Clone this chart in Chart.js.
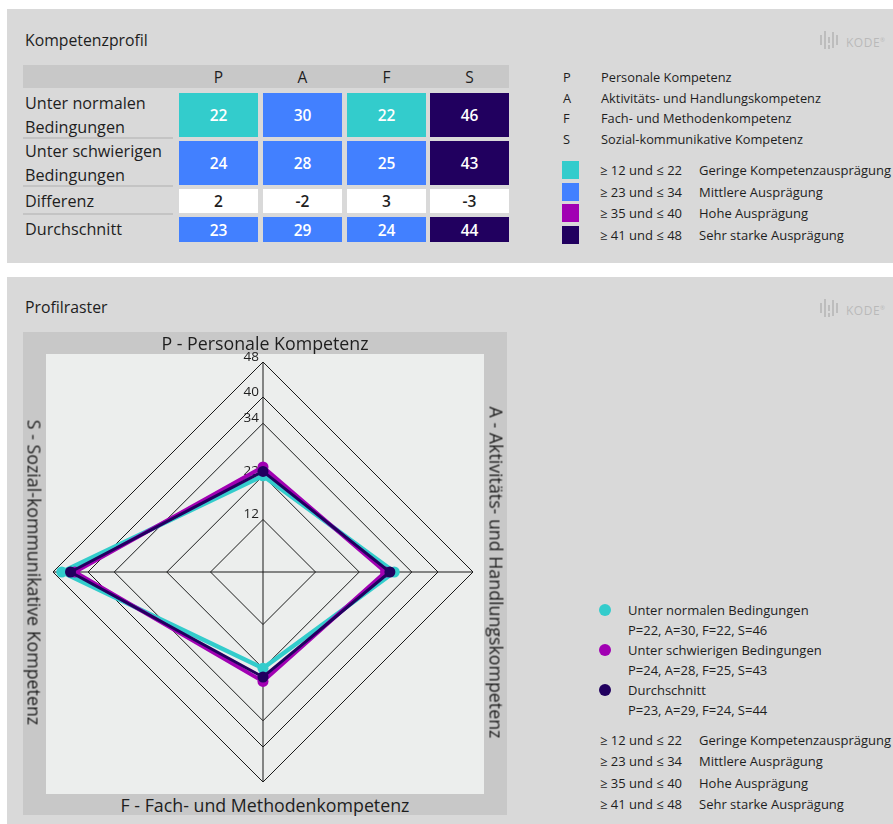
<!DOCTYPE html>
<html lang="de">
<head>
<meta charset="utf-8">
<title>Kompetenzprofil</title>
<script src="https://cdn.jsdelivr.net/npm/chart.js@4/dist/chart.umd.min.js"></script>
<style>
  html, body { margin: 0; padding: 0; background: #ffffff; }
  body { width: 893px; height: 824px; position: relative; overflow: hidden;
         font-family: "Open Sans", "Noto Sans", sans-serif; color: #1e1e1e; }
  .abs { position: absolute; white-space: nowrap; }
  .panel { position: absolute; left: 7px; width: 886px; background: #d9d9d9; }
  .logo { position: absolute; height: 22px; color: #b9b9b9; font-size: 12px; letter-spacing: 0.5px; }
  .logo .bar { position: absolute; background: #bdbdbd; width: 2px; }
  .logo sup { font-size: 6px; }
  canvas { position: absolute; }
</style>
</head>
<body>
<div class="panel" style="top:9px;height:254px;"></div>
<div class="panel" style="top:277px;height:547px;"></div>
<div id="frame" class="abs" style="left:23px;top:332px;width:484px;height:483px;background:#c8c8c8;"></div>
<div id="plotBg" class="abs" style="left:46px;top:354px;width:438px;height:440px;background:#eceeed;"></div>
<canvas id="radar" width="440" height="440" style="left:43px;top:352px;width:440px;height:440px;"></canvas>
<div id="overlay"></div>

<script>
// Competence dimensions
const categories = ['P', 'A', 'F', 'S'];
const categoryNames = ['Personale Kompetenz', 'Aktivitäts- und Handlungskompetenz',
                       'Fach- und Methodenkompetenz', 'Sozial-kommunikative Kompetenz'];
const axisTitles = ['P - Personale Kompetenz', 'A - Aktivitäts- und Handlungskompetenz',
                    'F - Fach- und Methodenkompetenz', 'S - Sozial-kommunikative Kompetenz'];

// Scores per condition
const seriesNames = ['Unter normalen Bedingungen', 'Unter schwierigen Bedingungen', 'Durchschnitt'];
const normalValues = [22, 30, 22, 46];
const difficultValues = [24, 28, 25, 43];
const averageValues = [23, 29, 24, 44];
const differenceValues = [2, -2, 3, -3];

// Radar scale ticks
const tickValues = [0, 12, 22, 34, 40, 48];

// Score bands
const bandLows = [12, 23, 35, 41];
const bandHighs = [22, 34, 40, 48];
const bandNames = ['Geringe Kompetenzausprägung', 'Mittlere Ausprägung', 'Hohe Ausprägung', 'Sehr starke Ausprägung'];
const bandColors = ['#33cccc', '#4280ff', '#a100b3', '#21005f'];
const seriesColors = ['#33cccc', '#a100b3', '#21005f'];

const overlay = document.getElementById('overlay');

function text(str, x, cy, opts = {}) {
  const size = opts.size || 13;
  const lh = opts.lh || Math.round(size * 1.4);
  const d = document.createElement('div');
  d.className = 'abs';
  d.textContent = str;
  d.style.fontSize = size + 'px';
  d.style.lineHeight = lh + 'px';
  d.style.height = lh + 'px';
  d.style.top = (cy - lh / 2) + 'px';
  if (opts.weight) d.style.fontWeight = opts.weight;
  if (opts.color) d.style.color = opts.color;
  if (opts.align === 'center') {
    d.style.width = opts.width + 'px';
    d.style.left = (x - opts.width / 2) + 'px';
    d.style.textAlign = 'center';
  } else {
    d.style.left = x + 'px';
  }
  overlay.appendChild(d);
  return d;
}

function box(x, y, w, h, color) {
  const d = document.createElement('div');
  d.className = 'abs';
  Object.assign(d.style, { left: x + 'px', top: y + 'px', width: w + 'px', height: h + 'px', background: color });
  overlay.appendChild(d);
  return d;
}

function bandColor(v) {
  for (let i = 0; i < bandLows.length; i++) {
    if (v >= bandLows[i] && v <= bandHighs[i]) return bandColors[i];
  }
  return '#ffffff';
}

function logo(x, cy) {
  const l = document.createElement('div');
  l.className = 'logo';
  l.style.left = x + 'px';
  l.style.top = (cy - 11) + 'px';
  l.style.width = '75px';
  [[0, 6, 10], [4, 2, 18], [8, 8, 6], [8, 16, 4], [12, 3, 16], [16, 6, 10]].forEach(([bx, by, bh]) => {
    const b = document.createElement('div');
    b.className = 'bar';
    Object.assign(b.style, { left: bx + 'px', top: by + 'px', height: bh + 'px' });
    l.appendChild(b);
  });
  const t = document.createElement('div');
  t.className = 'abs';
  t.style.left = '26px';
  t.style.top = '2px';
  t.style.lineHeight = '18px';
  t.innerHTML = 'KODE<sup>®</sup>';
  l.appendChild(t);
  overlay.appendChild(l);
}

// ---- Kompetenzprofil panel ----
text('Kompetenzprofil', 25, 40, { size: 15.8 });
logo(820, 40);

// table header
box(23, 65, 486, 23, '#c8c8c8');
const colLefts = [179, 263, 347, 430];
const colWidth = 79;
categories.forEach((c, i) => text(c, colLefts[i] + colWidth / 2, 77, { size: 15.5, align: 'center', width: colWidth }));

const rowLabels = [['Unter normalen', 'Bedingungen'], ['Unter schwierigen', 'Bedingungen'], ['Differenz'], ['Durchschnitt']];
const rowValues = [normalValues, difficultValues, differenceValues, averageValues];
const rowTops = [93, 141, 189, 217];
const rowHeights = [44, 44, 24, 25];

rowLabels.forEach((lines, r) => {
  const mid = rowTops[r] + rowHeights[r] / 2;
  if (lines.length === 2) {
    text(lines[0], 25, mid - 12, { size: 16.2 });
    text(lines[1], 25, mid + 12, { size: 16.2 });
  } else {
    text(lines[0], 25, mid, { size: 16.2 });
  }
  if (r < rowLabels.length - 1) box(23, rowTops[r] + rowHeights[r], 150, 2, '#c4c4c4');
  rowValues[r].forEach((v, c) => {
    const isDiff = rowValues[r] === differenceValues;
    box(colLefts[c], rowTops[r], colWidth, rowHeights[r], isDiff ? '#ffffff' : bandColor(v));
    text(String(v), colLefts[c] + colWidth / 2, mid, {
      size: 15.5, align: 'center', width: colWidth, weight: 600,
      color: isDiff ? '#1e1e1e' : '#ffffff'
    });
  });
});

// dimension key
categories.forEach((c, i) => {
  text(c, 563, 77 + i * 20.7, { size: 12.8 });
  text(categoryNames[i], 601, 77 + i * 20.7, { size: 12.8 });
});
// band key
bandNames.forEach((n, i) => {
  const cy = 170 + i * 21.7;
  box(562, cy - 9, 17, 18, bandColors[i]);
  text('≥ ' + bandLows[i] + ' und ≤ ' + bandHighs[i], 600, cy, { size: 13 });
  text(n, 699, cy, { size: 13 });
});

// ---- Profilraster panel ----
text('Profilraster', 25, 307, { size: 15.8 });
logo(820, 308);

text(axisTitles[0], 265, 343, { size: 17.8, align: 'center', width: 460 });
text(axisTitles[2], 265, 805, { size: 17.8, align: 'center', width: 460 });
const left = text(axisTitles[3], 34, 572, { size: 17.8, align: 'center', width: 460 });
left.style.transform = 'rotate(90deg)';
const right = text(axisTitles[1], 496, 572, { size: 17.8, align: 'center', width: 460 });
right.style.transform = 'rotate(90deg)';

// series key
const seriesValues = [normalValues, difficultValues, averageValues];
seriesNames.forEach((n, i) => {
  const cy = 610 + i * 40;
  const dot = box(599, cy - 6, 12, 12, seriesColors[i]);
  dot.style.borderRadius = '50%';
  text(n, 628, cy, { size: 13 });
  text(categories.map((c, k) => c + '=' + seriesValues[i][k]).join(', '), 628, cy + 20, { size: 13 });
});
bandNames.forEach((n, i) => {
  const cy = 740 + i * 21.3;
  text('≥ ' + bandLows[i] + ' und ≤ ' + bandHighs[i], 600, cy, { size: 13 });
  text(n, 699, cy, { size: 13 });
});

// ---- radar chart ----
const tickLabelPlugin = {
  id: 'tickLabels',
  beforeDatasetsDraw(chart) {
    const s = chart.scales.r;
    const ctx = chart.ctx;
    ctx.save();
    ctx.font = '13.5px "Open Sans"';
    ctx.fillStyle = '#1e1e1e';
    ctx.textAlign = 'right';
    ctx.textBaseline = 'middle';
    s.ticks.forEach((t) => {
      if (t.value === 0) return;
      const p = s.getPointPositionForValue(0, t.value);
      ctx.fillText(String(t.value), p.x - 4, p.y - 5);
    });
    ctx.restore();
  }
};

function series(i, values, width, order) {
  return {
    label: seriesNames[i],
    data: values,
    borderColor: seriesColors[i],
    backgroundColor: seriesColors[i],
    pointBackgroundColor: seriesColors[i],
    pointBorderColor: seriesColors[i],
    borderWidth: width,
    pointRadius: 5.5,
    pointBorderWidth: 0,
    fill: false,
    order: order
  };
}

new Chart(document.getElementById('radar'), {
  type: 'radar',
  data: {
    labels: categories,
    datasets: [
      series(0, normalValues, 4.5, 3),
      series(1, difficultValues, 4, 2),
      series(2, averageValues, 3, 1)
    ]
  },
  options: {
    responsive: false,
    animation: false,
    devicePixelRatio: 1,
    layout: { padding: 10 },
    plugins: { legend: { display: false }, tooltip: { enabled: false } },
    elements: { line: { tension: 0 } },
    scales: {
      r: {
        min: 0,
        max: 48,
        startAngle: 0,
        angleLines: { color: '#1a1a1a', lineWidth: 1 },
        grid: { color: '#1a1a1a', lineWidth: 1, circular: false },
        pointLabels: { display: false },
        ticks: { display: false },
        afterBuildTicks(scale) {
          scale.ticks = tickValues.map(v => ({ value: v, label: String(v) }));
        }
      }
    }
  },
  plugins: [tickLabelPlugin]
});
</script>
</body>
</html>
